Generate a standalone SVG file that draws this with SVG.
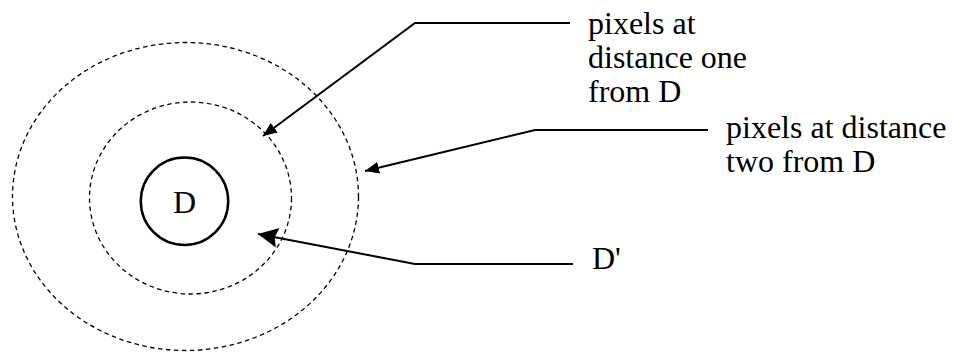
<svg xmlns="http://www.w3.org/2000/svg" width="953" height="354" viewBox="0 0 953 354">
<style>
.ring{fill:none;stroke:#000;stroke-width:1.3;stroke-dasharray:4.5,3.5}
.node{fill:none;stroke:#000;stroke-width:2.5}
.conn{fill:none;stroke:#000;stroke-width:2}
.lbl{font-size:32px;fill:#000}
</style>
<defs>
<marker id="ah" markerUnits="userSpaceOnUse" markerWidth="16" markerHeight="12" refX="14" refY="6" orient="auto">
<path d="M0,0 L14,6 L0,12 Z" fill="#000"/>
</marker>
<marker id="ahBig" markerUnits="userSpaceOnUse" markerWidth="24" markerHeight="24" refX="20" refY="12" orient="auto">
<path d="M0,2 L20,12 L0,22 L3,12 Z" fill="#000"/>
</marker>
</defs>
<g id="ring2"><ellipse class="ring" cx="185.5" cy="196.5" rx="173" ry="154"/></g>
<g id="ring1"><ellipse class="ring" cx="190.5" cy="198" rx="101" ry="96"/></g>
<g font-family="'Liberation Serif', 'DejaVu Serif', serif">
<g id="nodeD">
<circle class="node" cx="184.5" cy="201.3" r="43.7"/>
<text class="lbl" x="184.5" y="213" text-anchor="middle">D</text>
</g>
<g id="label1">
<text class="lbl" x="588" y="34">pixels at</text>
<text class="lbl" x="588" y="68">distance one</text>
<text class="lbl" x="588" y="102">from D</text>
</g>
<g id="label2">
<text class="lbl" x="726" y="138">pixels at distance</text>
<text class="lbl" x="726" y="172">two from D</text>
</g>
<g id="label3">
<text class="lbl" x="592" y="269">D'</text>
</g>
</g>
<g id="connectors">
<polyline class="conn" points="570,23 415,23 263,136" marker-end="url(#ah)"/>
<polyline class="conn" points="708,130 535,130 365,171" marker-end="url(#ah)"/>
<polyline class="conn" points="573,264 415,264 258,234" marker-end="url(#ahBig)"/>
</g>
</svg>
